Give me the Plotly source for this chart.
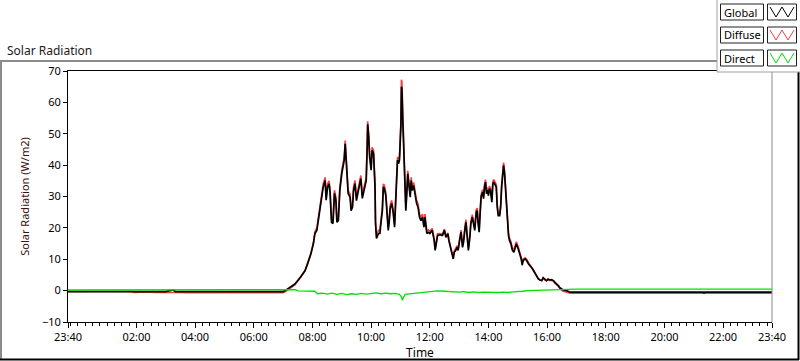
import plotly.graph_objects as go
from datetime import datetime, timedelta

# ---------------- data ----------------
day_times = ["23:40", "01:50", "01:55", "02:20", "02:40", "03:00", "03:15", "03:20", "03:45", "05:00", "06:00",
             "07:00", "07:04", "07:14", "07:24", "07:35", "07:45", "07:51", "07:57", "08:02", "08:05",
             "08:09", "08:12", "08:15", "08:19", "08:22", "08:26", "08:28", "08:31", "08:34", "08:36",
             "08:39", "08:42", "08:45", "08:48", "08:50", "08:53", "08:56", "09:00", "09:02", "09:05",
             "09:07", "09:09", "09:11", "09:13", "09:17", "09:19", "09:22", "09:24", "09:27", "09:30",
             "09:34", "09:37", "09:39", "09:42", "09:46", "09:50", "09:52", "09:53", "09:55", "09:57",
             "10:00", "10:02", "10:05", "10:08", "10:09", "10:11", "10:15", "10:18", "10:20", "10:23",
             "10:25", "10:27", "10:30", "10:32", "10:35", "10:37", "10:39", "10:42", "10:45", "10:48",
             "10:50", "10:52", "10:54", "10:56", "10:58", "11:01", "11:02", "11:03", "11:05", "11:07",
             "11:09", "11:11", "11:13", "11:15", "11:17", "11:20", "11:22", "11:24", "11:27", "11:30",
             "11:33", "11:36", "11:39", "11:42", "11:45", "11:48", "11:50", "11:54", "11:57", "12:00",
             "12:05", "12:09", "12:11", "12:16", "12:21", "12:26", "12:30", "12:33", "12:37", "12:39",
             "12:42", "12:45", "12:48", "12:50", "12:53", "12:56", "12:58", "13:01", "13:04", "13:07",
             "13:09", "13:12", "13:14", "13:16", "13:19", "13:22", "13:24", "13:27", "13:30", "13:32",
             "13:35", "13:37", "13:39", "13:41", "13:43", "13:45", "13:48", "13:50", "13:52", "13:54",
             "13:56", "13:58", "14:00", "14:02", "14:04", "14:07", "14:09", "14:11", "14:14", "14:16",
             "14:18", "14:20", "14:23", "14:25", "14:27", "14:29", "14:31", "14:33", "14:35", "14:37",
             "14:39", "14:41", "14:43", "14:46", "14:49", "14:52", "14:54", "14:57", "15:01", "15:04",
             "15:07", "15:09", "15:11", "15:15", "15:18", "15:22", "15:25", "15:28", "15:32", "15:35",
             "15:39", "15:42", "15:45", "15:49", "15:52", "15:56", "15:59", "16:02", "16:06", "16:09",
             "16:13", "16:16", "16:20", "16:23", "16:26", "16:30", "16:33", "16:40", "16:47", "21:20",
             "21:21", "21:22", "23:40"]

global_rad = [-0.3, -0.3, -0.3, -0.3, -0.3, -0.3, 0.2, -0.3, -0.3, -0.3, -0.3,
              -0.3, 0.0, 1.0, 2.1, 4.2, 6.4, 9.0, 11.8, 15.0, 18.2,
              19.2, 22.3, 25.5, 29.8, 33.0, 35.1, 28.8, 33.0, 34.0, 31.3,
              21.8, 21.4, 31.0, 28.7, 21.8, 22.3, 31.9, 37.3, 39.3, 41.6,
              46.8, 41.6, 35.1, 31.0, 29.7, 25.5, 26.6, 31.9, 34.1, 28.7,
              31.9, 34.1, 35.7, 29.4, 31.9, 35.1, 45.8, 53.0, 49.0, 42.6,
              38.4, 44.7, 43.7, 33.0, 21.4, 16.6, 18.2, 18.2, 21.4, 25.5,
              33.0, 32.6, 30.3, 24.6, 19.2, 21.8, 26.2, 27.8, 25.0, 20.2,
              28.7, 39.4, 41.6, 40.4, 41.6, 52.7, 65.0, 64.4, 53.3, 43.7,
              33.0, 25.5, 31.0, 37.2, 34.1, 29.8, 35.1, 31.9, 33.5, 29.8,
              27.8, 26.6, 23.4, 22.3, 23.4, 20.2, 23.4, 18.2, 18.6, 18.2,
              19.2, 16.0, 12.8, 17.6, 17.8, 17.6, 19.2, 17.0, 18.1, 16.0,
              13.8, 11.7, 10.1, 12.2, 12.8, 13.8, 12.8, 16.0, 18.6, 13.8,
              15.4, 19.7, 21.8, 18.1, 12.8, 17.0, 21.3, 23.4, 21.3, 19.2,
              25.0, 25.5, 21.3, 18.6, 24.5, 29.8, 31.4, 29.3, 33.0, 34.6,
              30.9, 32.0, 30.3, 32.5, 32.0, 28.2, 34.0, 34.6, 33.6, 33.0,
              26.6, 23.9, 23.9, 26.6, 33.0, 36.2, 39.9, 37.2, 32.0, 26.6,
              19.7, 17.6, 16.0, 14.9, 12.8, 12.2, 13.3, 14.9, 13.3, 11.7,
              10.1, 8.1, 9.6, 10.1, 9.6, 8.5, 8.0, 7.4, 6.4, 5.5,
              4.3, 3.7, 3.4, 3.2, 4.1, 3.4, 3.2, 3.7, 3.4, 3.5,
              3.2, 2.6, 2.1, 1.6, 0.9, 0.5, 0.2, 0.0, -0.5, -0.5,
              -0.9, -0.5, -0.5]

diffuse_rad = [-0.3, -0.3, -0.6, -0.4, -0.6, -0.5, -0.4, -0.6, -0.7, -0.7, -0.7,
               -0.7, -0.4, 0.7, 1.8, 4.1, 6.4, 9.1, 12.0, 15.3, 18.8,
               20.0, 23.2, 26.4, 30.8, 34.0, 36.1, 29.8, 34.0, 35.0, 32.3,
               22.8, 22.4, 32.0, 29.7, 22.8, 23.3, 32.9, 38.3, 40.3, 42.6,
               47.8, 42.6, 36.1, 32.0, 30.7, 26.5, 27.6, 32.9, 35.1, 29.7,
               32.9, 35.1, 36.7, 30.4, 32.9, 36.1, 46.8, 54.0, 50.0, 43.6,
               39.4, 45.7, 44.7, 34.0, 22.4, 17.6, 19.2, 19.2, 22.4, 26.5,
               34.0, 33.6, 31.3, 25.6, 20.2, 22.8, 27.2, 28.8, 26.0, 21.2,
               29.7, 40.4, 42.6, 41.4, 42.6, 54.2, 67.2, 66.6, 55.3, 45.2,
               34.0, 26.5, 32.0, 38.2, 35.1, 30.8, 36.1, 32.9, 34.5, 30.8,
               28.8, 27.6, 24.4, 23.3, 24.4, 21.2, 24.4, 19.0, 19.4, 18.9,
               19.8, 16.5, 13.3, 18.1, 18.2, 18.0, 19.6, 17.3, 18.4, 16.3,
               14.1, 12.0, 10.5, 12.6, 13.3, 14.3, 13.3, 16.6, 19.3, 14.5,
               16.1, 20.4, 22.6, 18.9, 13.6, 17.8, 22.1, 24.2, 22.1, 20.0,
               25.8, 26.3, 22.1, 19.4, 25.3, 30.6, 32.2, 30.1, 33.8, 35.4,
               31.7, 32.8, 31.1, 33.3, 32.8, 29.0, 34.8, 35.4, 34.4, 33.8,
               27.4, 24.7, 24.7, 27.4, 33.8, 37.0, 40.8, 38.0, 32.8, 27.4,
               20.5, 18.4, 16.8, 15.6, 13.5, 12.9, 14.0, 15.6, 13.8, 12.2,
               10.6, 8.6, 10.1, 10.5, 10.0, 8.9, 8.3, 7.7, 6.6, 5.7,
               4.5, 3.8, 3.5, 3.2, 4.1, 3.3, 3.1, 3.5, 3.2, 3.3,
               3.0, 2.3, 1.8, 1.3, 0.6, 0.1, -0.2, -0.5, -0.8, -0.8,
               -0.8, -0.8, -0.8]

direct_times = ["23:40", "07:00", "07:25", "07:30", "08:05", "08:10", "08:20", "08:30", "08:40", "08:50",
                "09:00", "09:10", "09:20", "09:30", "09:40", "09:50", "10:00", "10:10", "10:20", "10:30",
                "10:40", "10:50", "10:58", "11:02", "11:04", "11:06", "11:10", "11:20", "11:30", "11:45",
                "12:00", "12:15", "12:30", "12:45", "13:00", "13:10", "13:20", "13:30", "13:40", "13:50",
                "14:00", "14:10", "14:20", "14:30", "14:40", "14:50", "15:00", "15:10", "15:20", "15:40",
                "16:00", "16:20", "16:30", "16:40", "17:00", "23:40"]
direct_rad = [0.2, 0.2, 0.3, -0.1, -0.2, -1.0, -0.8, -1.1, -0.8, -1.2,
              -0.9, -1.3, -1.0, -1.2, -0.9, -1.1, -0.8, -0.7, -1.0, -0.8,
              -1.0, -0.9, -1.2, -2.0, -3.1, -2.2, -1.2, -1.0, -0.8, -0.6,
              -0.4, -0.1, -0.2, -0.3, -0.5, -0.3, -0.6, -0.4, -0.6, -0.5,
              -0.6, -0.5, -0.6, -0.5, -0.6, -0.4, -0.4, -0.2, 0.0, 0.1,
              0.3, 0.2, 0.3, 0.5, 0.5, 0.5]

x_tick_labels = ["23:40", "02:00", "04:00", "06:00", "08:00", "10:00", "12:00",
                 "14:00", "16:00", "18:00", "20:00", "22:00", "23:40"]

series_names = ["Global", "Diffuse", "Direct"]
series_colors = ["#000000", "#ff3c3c", "#00e000"]

y_min, y_max = -10, 70

# --------------- helpers ---------------
BASE = datetime(2024, 1, 1)


def to_dt(times):
    out, day, prev = [], 0, None
    for t in times:
        h, m = map(int, t.split(":"))
        mins = h * 60 + m
        if prev is not None and mins < prev:
            day += 1
        prev = mins
        out.append(BASE + timedelta(days=day, minutes=mins))
    return out


W, H = 800, 361
L, R, T, B = 68, 772, 71, 322


def px(x):
    return (x - L) / (R - L)


def py(y):
    return (B - y) / (B - T)


FONT = "Noto Sans"

fig = go.Figure()
fig.add_trace(go.Scatter(x=to_dt(day_times), y=diffuse_rad, mode="lines", name=series_names[1],
                         line=dict(color=series_colors[1], width=1.6), showlegend=False))
fig.add_trace(go.Scatter(x=to_dt(day_times), y=global_rad, mode="lines", name=series_names[0],
                         line=dict(color=series_colors[0], width=1.7), showlegend=False))
fig.add_trace(go.Scatter(x=to_dt(direct_times), y=direct_rad, mode="lines", name=series_names[2],
                         line=dict(color=series_colors[2], width=1.3), showlegend=False))

tick_dts = to_dt(x_tick_labels)
x_start, x_end = tick_dts[0], tick_dts[-1]

fig.update_xaxes(
    range=[x_start, x_end], tickmode="array", tickvals=tick_dts, ticktext=x_tick_labels,
    ticks="outside", ticklen=5, tickcolor="black", tickwidth=1,
    minor=dict(tickmode="linear", dtick=15 * 60 * 1000, tick0=BASE, ticks="outside",
               ticklen=3, tickcolor="black", tickwidth=1, showgrid=False),
    showline=True, linecolor="black", linewidth=1, mirror=True,
    showgrid=False, zeroline=False, automargin=False,
    tickfont=dict(family=FONT, size=11, color="#000"),
    title=dict(text="Time", font=dict(family=FONT, size=12, color="#000"), standoff=0),
)
fig.update_yaxes(
    range=[y_min, y_max], dtick=10, tick0=0, ticks="outside", ticklen=4, tickcolor="black",
    showline=True, linecolor="black", linewidth=1,
    showgrid=False, zeroline=False, automargin=False,
    tickfont=dict(family=FONT, size=11, color="#000"),
    title=dict(text="Solar Radiation (W/m2)", font=dict(family=FONT, size=11, color="#3a1010"), standoff=10),
)

shapes = []
# right border of plot area (grey)
shapes.append(dict(type="line", xref="paper", yref="paper", x0=1, x1=1, y0=0, y1=1,
                   line=dict(color="#8c8c8c", width=1)))
# outer frame
shapes.append(dict(type="line", xref="paper", yref="paper", x0=px(0), x1=px(717), y0=py(61), y1=py(61),
                   line=dict(color="#8c8c8c", width=2)))
shapes.append(dict(type="line", xref="paper", yref="paper", x0=px(1), x1=px(1), y0=py(61), y1=py(360),
                   line=dict(color="#8c8c8c", width=2)))
shapes.append(dict(type="line", xref="paper", yref="paper", x0=px(0), x1=px(799), y0=py(359.5), y1=py(359.5),
                   line=dict(color="#000000", width=2)))
shapes.append(dict(type="line", xref="paper", yref="paper", x0=px(798.5), x1=px(798.5), y0=py(72), y1=py(360),
                   line=dict(color="#000000", width=2)))
# legend panel (white, grey left and bottom edges)
shapes.append(dict(type="rect", xref="paper", yref="paper", x0=px(717), x1=px(801), y0=py(-1), y1=py(72),
                   fillcolor="white", line=dict(width=0)))
shapes.append(dict(type="line", xref="paper", yref="paper", x0=px(717), x1=px(717), y0=py(0), y1=py(72),
                   line=dict(color="#a0a0a0", width=1)))
shapes.append(dict(type="line", xref="paper", yref="paper", x0=px(717), x1=px(800), y0=py(72), y1=py(72),
                   line=dict(color="#a0a0a0", width=1)))

annotations = [dict(text="Solar Radiation", xref="paper", yref="paper", x=px(5), y=py(50),
                    xanchor="left", yanchor="middle", showarrow=False,
                    font=dict(family=FONT, size=12, color="#1a1a1a"))]

row_tops = [4, 27, 50]
for name, color, top in zip(series_names, series_colors, row_tops):
    bot = top + 16
    shapes.append(dict(type="rect", xref="paper", yref="paper", x0=px(720.5), x1=px(763.5),
                       y0=py(bot), y1=py(top), fillcolor="white", line=dict(color="#202020", width=1)))
    shapes.append(dict(type="rect", xref="paper", yref="paper", x0=px(767.5), x1=px(796.5),
                       y0=py(bot), y1=py(top), fillcolor="white", line=dict(color="#202020", width=1)))
    zx = [770, 776, 782, 788, 794]
    zy = [top + 3, bot - 3, top + 3, bot - 3, top + 3]
    path = "M " + " L ".join(f"{px(a)},{py(b)}" for a, b in zip(zx, zy))
    shapes.append(dict(type="path", xref="paper", yref="paper", path=path,
                       line=dict(color=color, width=1)))
    annotations.append(dict(text=name, xref="paper", yref="paper", x=px(722), y=py(top + 8),
                            xanchor="left", yanchor="middle", showarrow=False,
                            font=dict(family=FONT, size=11, color="#000")))

fig.update_layout(
    width=W, height=H, margin=dict(l=L, r=W - R, t=T, b=H - B),
    paper_bgcolor="white", plot_bgcolor="white",
    shapes=shapes, annotations=annotations, showlegend=False,
)

fig.write_html("out.html", config={"displayModeBar": False},
               post_script="document.body.style.margin='0';document.body.style.overflow='hidden';")
